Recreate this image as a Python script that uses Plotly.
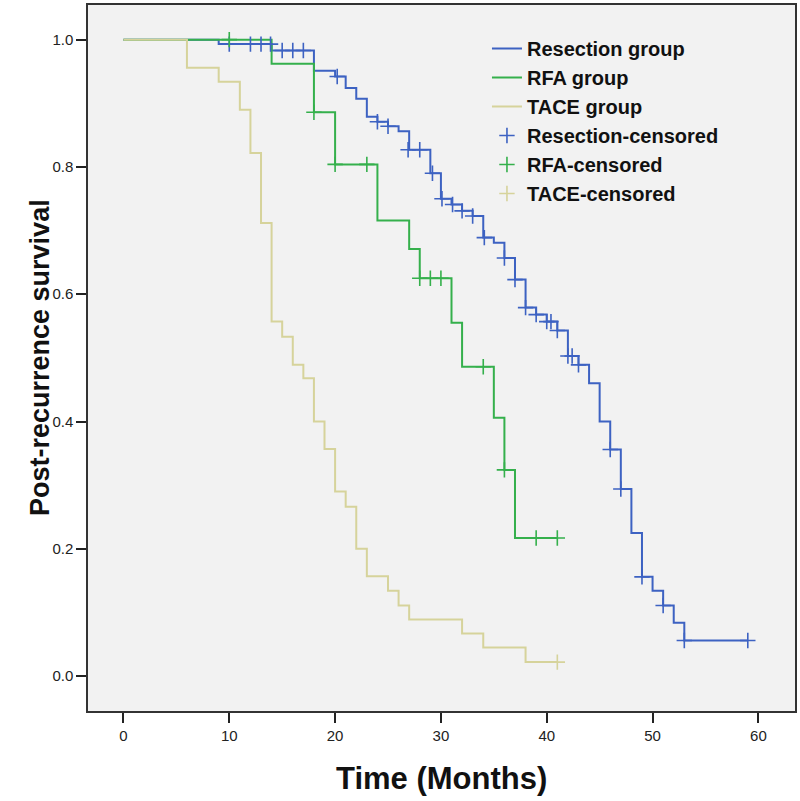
import plotly.graph_objects as go

# Resection group (Kaplan-Meier steps)
res_time = [0, 9, 14, 18, 20, 21, 22, 23, 24, 25, 26, 27, 29, 30, 31, 32, 33, 34, 35, 36, 37, 38, 39, 40, 41, 42, 43, 44, 45, 46, 47, 48, 49, 50, 51, 52, 53, 59]
res_surv = [1.0, 0.993, 0.983, 0.951, 0.942, 0.924, 0.907, 0.879, 0.871, 0.864, 0.856, 0.827, 0.790, 0.750, 0.741, 0.731, 0.723, 0.689, 0.681, 0.657, 0.623, 0.579, 0.568, 0.557, 0.543, 0.503, 0.489, 0.460, 0.400, 0.356, 0.294, 0.225, 0.156, 0.134, 0.111, 0.084, 0.056, 0.056]
res_cens_t = [10, 12, 13, 13.9, 15, 16, 17, 20.2, 24, 25, 26.9, 28, 29.2, 30.1, 31.1, 32, 33, 34.1, 36, 37, 38, 39, 40, 40.4, 41, 42, 42.4, 43, 46, 47, 49, 51, 53, 59]
res_cens_s = [0.993, 0.993, 0.993, 0.993, 0.983, 0.983, 0.983, 0.942, 0.871, 0.864, 0.827, 0.827, 0.790, 0.750, 0.741, 0.731, 0.723, 0.689, 0.657, 0.623, 0.579, 0.568, 0.557, 0.557, 0.543, 0.503, 0.503, 0.489, 0.356, 0.294, 0.156, 0.111, 0.056, 0.056]

# RFA group
rfa_time = [0, 14, 18, 20, 24, 27, 28, 31, 32, 35, 36, 37, 41]
rfa_surv = [1.0, 0.962, 0.886, 0.804, 0.716, 0.671, 0.625, 0.555, 0.486, 0.406, 0.324, 0.217, 0.217]
rfa_cens_t = [10, 18, 20, 23, 28, 29, 30, 34, 36, 39, 41]
rfa_cens_s = [1.0, 0.886, 0.804, 0.804, 0.625, 0.625, 0.625, 0.486, 0.324, 0.217, 0.217]

# TACE group
tace_time = [0, 6, 9, 11, 12, 13, 14, 15, 16, 17, 18, 19, 20, 21, 22, 23, 25, 26, 27, 32, 34, 38, 41]
tace_surv = [1.0, 0.956, 0.934, 0.890, 0.822, 0.712, 0.557, 0.533, 0.489, 0.468, 0.400, 0.357, 0.290, 0.266, 0.200, 0.157, 0.134, 0.111, 0.089, 0.067, 0.045, 0.022, 0.022]
tace_cens_t = [41]
tace_cens_s = [0.022]

x_ticks = [0, 10, 20, 30, 40, 50, 60]
y_ticks = [0.0, 0.2, 0.4, 0.6, 0.8, 1.0]

BLUE = "#3d62c2"
GREEN = "#35b04c"
TAN = "#d6d39b"
FONT = "Liberation Sans, Arial, sans-serif"

fig = go.Figure()
for name, t, s, c in [("Resection group", res_time, res_surv, BLUE),
                      ("RFA group", rfa_time, rfa_surv, GREEN),
                      ("TACE group", tace_time, tace_surv, TAN)]:
    fig.add_trace(go.Scatter(x=t, y=s, mode="lines", name=name,
                             line=dict(color=c, width=2, shape="hv")))
for name, t, s, c in [("Resection-censored", res_cens_t, res_cens_s, BLUE),
                      ("RFA-censored", rfa_cens_t, rfa_cens_s, GREEN),
                      ("TACE-censored", tace_cens_t, tace_cens_s, TAN)]:
    fig.add_trace(go.Scatter(x=t, y=s, mode="markers", name=name,
                             marker=dict(symbol="cross-thin", size=11,
                                         line=dict(color=c, width=1.6))))

axis_font = dict(family=FONT, size=15, color="#222222")
common_axis = dict(showgrid=False, zeroline=False, ticks="outside", ticklen=10, tickwidth=2,
                   tickcolor="#222222", tickfont=axis_font, showline=True, linecolor="#333333",
                   linewidth=1.5, mirror=True)
fig.update_layout(
    width=800, height=801,
    margin=dict(l=88, r=3, t=3, b=90),
    paper_bgcolor="white",
    plot_bgcolor="#f2f2f2",
    showlegend=True,
    legend=dict(x=0.5643, y=0.966, xanchor="left", yanchor="top",
                bgcolor="rgba(0,0,0,0)",
                font=dict(family=FONT, size=20, color="#111111", weight="bold"),
                tracegroupgap=0),
    xaxis=dict(range=[-3.35, 63.46], tickvals=x_ticks, ticktext=[str(v) for v in x_ticks],
               **common_axis),
    yaxis=dict(range=[-0.0548, 1.0544], tickvals=y_ticks, ticktext=[f"{v:.1f}" for v in y_ticks],
               **common_axis),
    annotations=[
        dict(text="<b>Time (Months)</b>", xref="paper", yref="paper", x=0.5, y=0,
             xanchor="center", yanchor="middle", yshift=-67, showarrow=False,
             font=dict(family=FONT, size=31, color="#111111")),
        dict(text="<b>Post-recurrence survival</b>", xref="paper", yref="paper", x=0, y=0.5,
             xanchor="center", yanchor="middle", xshift=-48, textangle=-90, showarrow=False,
             font=dict(family=FONT, size=27, color="#111111")),
    ],
)

fig.write_html("out.html", config={"displayModeBar": False},
               post_script="document.body.style.margin='0';")
